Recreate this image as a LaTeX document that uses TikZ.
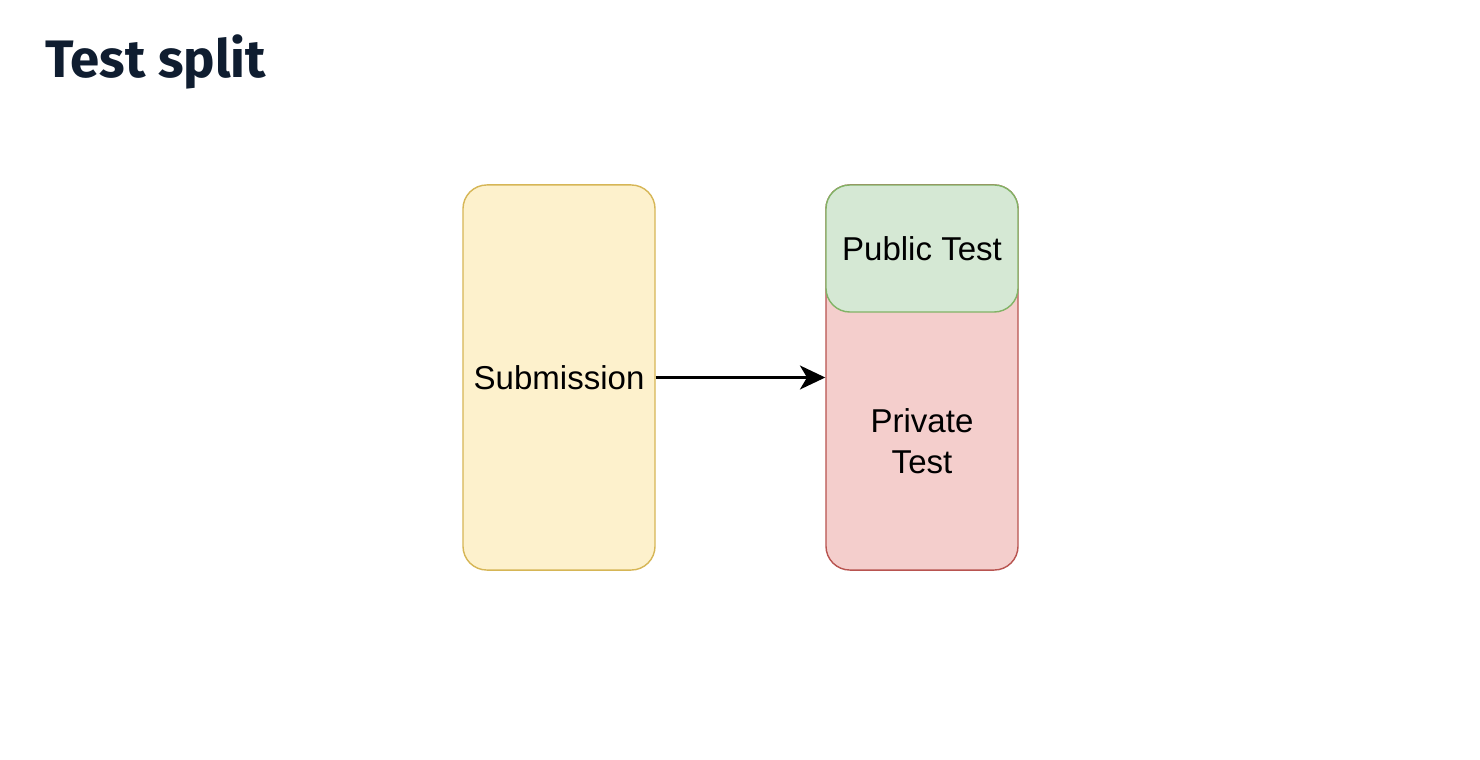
\documentclass[tikz,border=0pt]{standalone}
\usepackage{fontspec}
\setmainfont{Liberation Sans}
\newfontfamily\titlefont{Fira Sans}
\usetikzlibrary{arrows.meta}
\definecolor{titleblue}{HTML}{0F1D30}
\definecolor{subfill}{HTML}{FDF1CC}
\definecolor{subdraw}{HTML}{D6B656}
\definecolor{pubfill}{HTML}{D5E8D4}
\definecolor{pubdraw}{HTML}{82B366}
\definecolor{privfill}{HTML}{F4CECC}
\definecolor{privdraw}{HTML}{B85450}
\begin{document}
\begin{tikzpicture}[x=0.025cm, y=-0.025cm,
    box/.style={rectangle, rounded corners=17pt, line width=1pt,
      minimum width=4.8cm, inner sep=0pt},
    every node/.style={font=\fontsize{23.5}{29}\selectfont},
    arrow/.style={-{Stealth[length=18pt, width=17pt, inset=5pt]}, line width=2pt}]
    \useasboundingbox (0,0) rectangle (1480,760);
    % Title
    \node[anchor=base west, inner sep=0pt, text=titleblue,
      font=\titlefont\bfseries\fontsize{37.5}{45}\selectfont] (title) at (45,78) {Test split};
    % Nodes
    \node[box, fill=subfill, draw=subdraw, minimum height=9.625cm] (sub) at (559,377.5) {Submission};
    \node[box, fill=privfill, draw=privdraw, minimum height=9.625cm] (priv) at (922,377.5) {};
    \node[box, fill=pubfill, draw=pubdraw, minimum height=3.175cm] (pub) at (922,248.5) {Public Test};
    \node[align=center, inner sep=0pt] (privtext) at (922,441) {Private\\Test};
    % Edges
    \draw[arrow] (sub.east) -- (priv.west);
\end{tikzpicture}
\end{document}
